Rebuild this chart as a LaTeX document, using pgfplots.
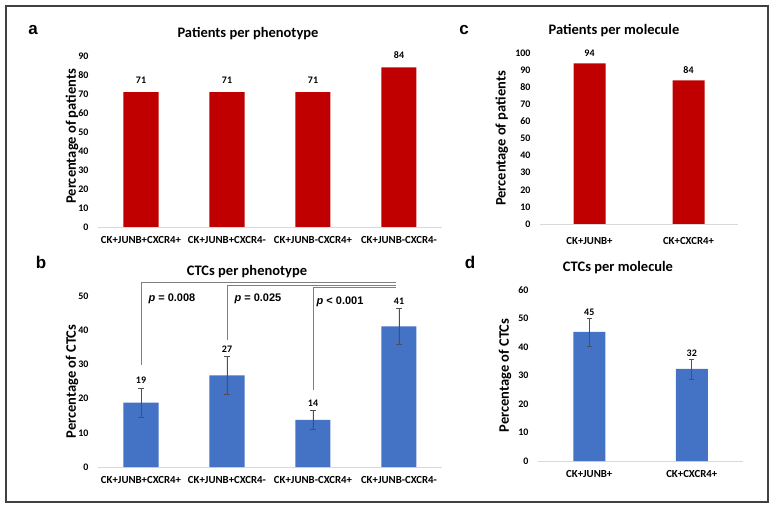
\documentclass[border=0pt]{standalone}
\usepackage{fontspec}
\setmainfont{Carlito}
\newfontfamily\arialf{Liberation Sans}
\usepackage{pgfplots}
\pgfplotsset{compat=1.18}
\definecolor{barred}{HTML}{C00000}
\definecolor{barblue}{HTML}{4472C4}
\definecolor{axgray}{HTML}{D9D9D9}
\definecolor{errgray}{HTML}{505050}
\definecolor{brgray}{HTML}{808080}

\pgfplotsset{
  excel/.style={
    scale only axis, anchor=south west, clip=false,
    axis x line*=bottom, axis y line*=left,
    x axis line style={axgray, line width=0.8pt, -},
    y axis line style={draw=none},
    major tick length=0pt,
    ymin=0,
    /pgf/number format/assume math mode=true,
    yticklabel style={xshift=-6pt, font=\fontsize{10}{12}\selectfont\bfseries},
    xticklabel style={font=\fontsize{10.8}{12}\selectfont\bfseries},
  },
  ylab/.style n args={2}{every axis y label/.style={at={(axis description cs:#1,#2)}, rotate=90, anchor=center,
    font=\fontsize{14.5}{16}\selectfont\bfseries}},
  four/.style={xmin=-0.5, xmax=3.5, xtick={0,1,2,3},
    xticklabels={CK+JUNB+CXCR4+,CK+JUNB+CXCR4-,CK+JUNB-CXCR4+,CK+JUNB-CXCR4-}},
  two/.style={xmin=-0.5, xmax=1.5, xtick={0,1},
    xticklabels={CK+JUNB+,CK+CXCR4+}},
  errs/.style={error bars/.cd, y dir=both, y explicit,
    error bar style={errgray, line width=0.6pt},
    error mark options={rotate=90, mark size=2.6pt, errgray, line width=0.6pt}},
  vlabels/.style={draw=none, mark=none, nodes near coords, point meta=explicit symbolic,
    nodes near coords style={anchor=south, font=\fontsize{10}{12}\selectfont\bfseries, text=black}},
}

\begin{document}
\begin{tikzpicture}
\path[use as bounding box] (0pt,0pt) rectangle (776pt,517pt);
\draw[line width=1.1pt, color=black!75] (6pt,15pt) rectangle (768pt,511pt);

% ---- panel a
\begin{axis}[excel, four, at={(98pt,290pt)}, width=344pt, height=171pt,
  ymax=90, ytick={0,10,...,90},
  xticklabel style={yshift=-6pt},
  ylabel={Percentage of patients}, ylab={-0.0756}{0.53}]
\addplot[ybar, bar width=35pt, fill=barred, draw=none,
  nodes near coords, nodes near coords style={anchor=south, yshift=5pt, font=\fontsize{10}{12}\selectfont\bfseries}]
  coordinates {(0,71) (1,71) (2,71) (3,84)};
\end{axis}

% ---- panel b
\begin{axis}[excel, four, at={(98pt,50pt)}, width=344pt, height=171pt,
  ymax=50, ytick={0,10,...,50},
  xticklabel style={yshift=-6pt},
  ylabel={Percentage of CTCs}, ylab={-0.0756}{0.5}]
\addplot[ybar, bar width=35pt, fill=barblue, draw=none, errs]
  coordinates {(0,18.8) +- (0,4.3) (1,26.8) +- (0,5.6) (2,13.8) +- (0,2.8) (3,41.1) +- (0,5.2)};
\addplot[vlabels, nodes near coords style={yshift=0.5pt}]
  coordinates {(0,23.1)[19] (1,32.4)[27] (2,16.6)[14] (3,46.3)[41]};
\draw[brgray, line width=0.8pt] (axis cs:0,29.8) |- (axis cs:2.965,54.1);
\draw[brgray, line width=0.8pt] (axis cs:1,37.1) |- (axis cs:2.965,53.2);
\draw[brgray, line width=0.8pt] (axis cs:2,22.5) |- (axis cs:2.965,52.4);
\node[anchor=base west, font=\arialf\fontsize{11}{13}\selectfont\bfseries, inner sep=0pt] at (axis cs:0.085,48.5) {\textit{p} = 0.008};
\node[anchor=base west, font=\arialf\fontsize{11}{13}\selectfont\bfseries, inner sep=0pt] at (axis cs:1.085,48.5) {\textit{p} = 0.025};
\node[anchor=base west, font=\arialf\fontsize{11}{13}\selectfont\bfseries, inner sep=0pt] at (axis cs:2.04,47.4) {\textit{p} < 0.001};
\end{axis}

% ---- panel c
\begin{axis}[excel, two, at={(540pt,293pt)}, width=198pt, height=171pt,
  ymax=100, ytick={0,10,...,100},
  xticklabel style={yshift=-10pt},
  ylabel={Percentage of patients}, ylab={-0.193}{0.5}]
\addplot[ybar, bar width=32pt, fill=barred, draw=none,
  nodes near coords, nodes near coords style={anchor=south, yshift=3pt, font=\fontsize{10}{12}\selectfont\bfseries}]
  coordinates {(0,94) (1,84)};
\end{axis}

% ---- panel d
\begin{axis}[excel, two, at={(538pt,56pt)}, width=205pt, height=171pt,
  ymax=60, ytick={0,10,...,60},
  xticklabel style={yshift=-6pt},
  ylabel={Percentage of CTCs}, ylab={-0.161}{0.5}]
\addplot[ybar, bar width=32pt, fill=barblue, draw=none, errs]
  coordinates {(0,45.3) +- (0,4.9) (1,32.3) +- (0,3.5)};
\addplot[vlabels, nodes near coords style={yshift=-1.5pt}]
  coordinates {(0,50.2)[45] (1,35.8)[32]};
\end{axis}

% ---- titles and panel letters
\node[anchor=base, font=\fontsize{14.5}{16}\selectfont\bfseries] at (248pt,479.7pt) {Patients per phenotype};
\node[anchor=base, font=\fontsize{14.5}{16}\selectfont\bfseries] at (247pt,241pt) {CTCs per phenotype};
\node[anchor=base, font=\fontsize{14.5}{16}\selectfont\bfseries] at (614pt,482.7pt) {Patients per molecule};
\node[anchor=base, font=\fontsize{14.5}{16}\selectfont\bfseries] at (618pt,245.3pt) {CTCs per molecule};
\node[anchor=base, font=\arialf\fontsize{17}{19}\selectfont\bfseries] at (33pt,482pt) {a};
\node[anchor=base, font=\arialf\fontsize{17}{19}\selectfont\bfseries] at (41pt,248pt) {b};
\node[anchor=base, font=\arialf\fontsize{17}{19}\selectfont\bfseries] at (464pt,482pt) {c};
\node[anchor=base, font=\arialf\fontsize{17}{19}\selectfont\bfseries] at (470pt,248pt) {d};
\end{tikzpicture}
\end{document}
